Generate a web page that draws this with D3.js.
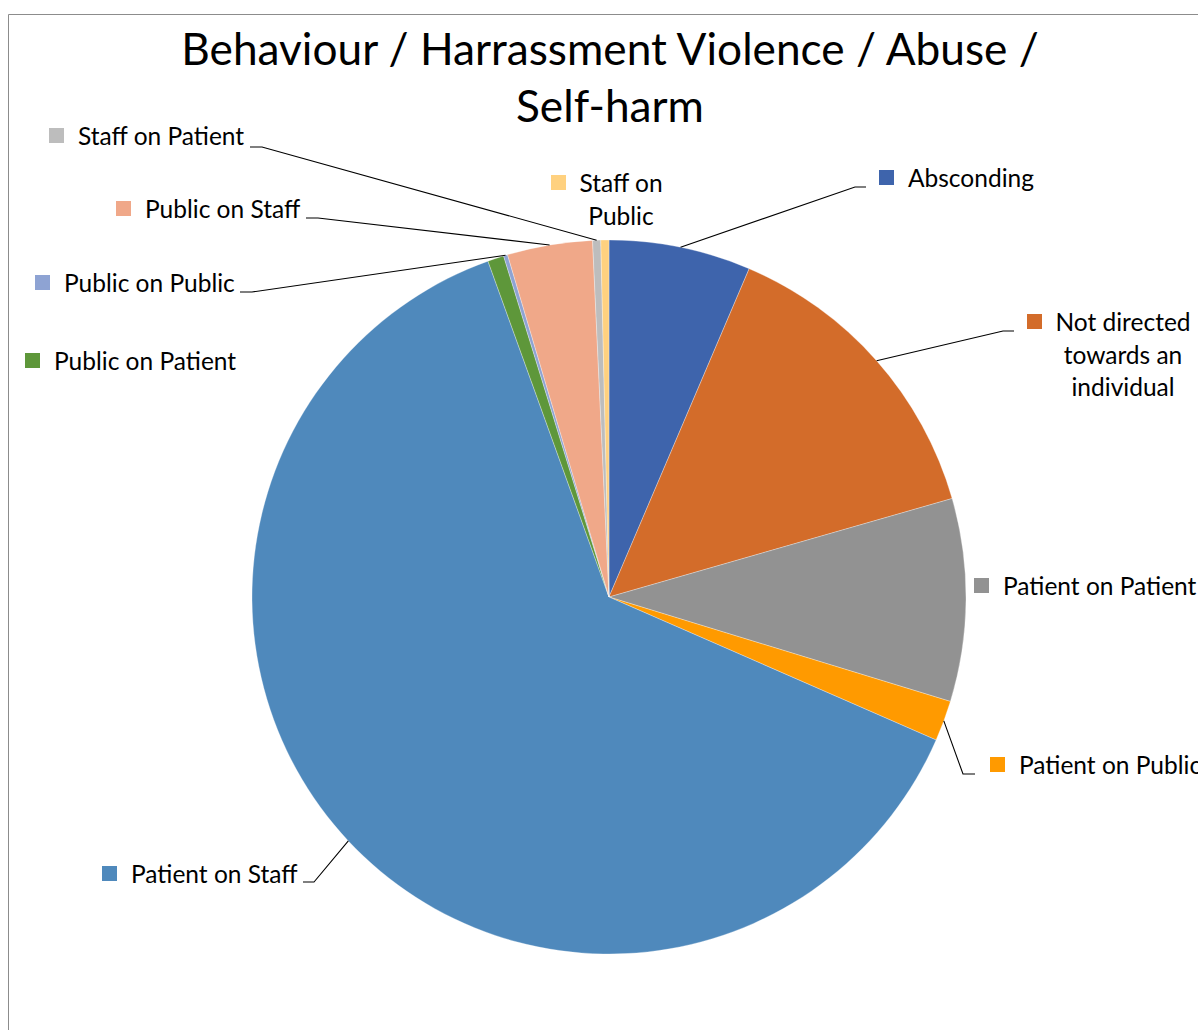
<!DOCTYPE html>
<html>
<head>
<meta charset="utf-8">
<script src="https://cdn.jsdelivr.net/npm/d3@7"></script>
<style>
  html, body { margin: 0; padding: 0; background: #fff; }
  svg { display: block; }
  text { font-family: Lato, "Open Sans", sans-serif; fill: #000; }
</style>
</head>
<body>
<svg id="chart" width="1198" height="1030"></svg>
<script>
// Incident counts by category (drawn clockwise from 12 o'clock in this order)
const categories = [
  "Absconding",
  "Not directed towards an individual",
  "Patient on Patient",
  "Patient on Public",
  "Patient on Staff",
  "Public on Patient",
  "Public on Public",
  "Public on Staff",
  "Staff on Patient",
  "Staff on Public"
];
const counts = [35, 77, 50, 10, 343, 4, 1, 21, 2, 2];
const colors = [
  "#3E64AC", "#D36C2A", "#929292", "#FF9A00", "#4F89BC",
  "#5E973A", "#8EA3D3", "#F0A889", "#BDBDBD", "#FFD17F"
];
const titleLines = ["Behaviour / Harrassment Violence / Abuse /", "Self-harm"];

// Label placement: text lines, text anchor point, and optional leader (elbow + end)
const labelLayout = {
  "Absconding":            { lines: ["Absconding"], x: 908, y: 187, align: "start", leader: [[855, 187], [866, 187]] },
  "Not directed towards an individual": { lines: ["Not directed", "towards an", "individual"], x: 1123, y: 331, align: "middle", keyX: 1027, leader: [[1003, 331], [1014, 331]] },
  "Patient on Patient":    { lines: ["Patient on Patient"], x: 1003, y: 595, align: "start" },
  "Patient on Public":     { lines: ["Patient on Public"], x: 1019, y: 774, align: "start", leader: [[963, 774], [975, 774]] },
  "Patient on Staff":      { lines: ["Patient on Staff"], x: 131, y: 883, align: "start", leader: [[314, 882], [303, 882]] },
  "Public on Patient":     { lines: ["Public on Patient"], x: 54, y: 370, align: "start" },
  "Public on Public":      { lines: ["Public on Public"], x: 64, y: 292, align: "start", leader: [[252, 292], [240, 292]] },
  "Public on Staff":       { lines: ["Public on Staff"], x: 145, y: 218, align: "start", leader: [[318, 218], [306, 218]] },
  "Staff on Patient":      { lines: ["Staff on Patient"], x: 78, y: 145, align: "start", leader: [[262, 147], [250, 147]] },
  "Staff on Public":       { lines: ["Staff on", "Public"], x: 621, y: 192, align: "middle", keyX: 551 }
};

const svg = d3.select("#chart");
const W = 1198, H = 1030;
const cx = 609, cy = 597, R = 357;
const lineH = 32.5, keySize = 15, labelSize = 24.5;

// Chart-area frame
svg.append("path")
  .attr("d", `M8.5,${H + 5} L8.5,14.5 L${W + 5},14.5`)
  .attr("fill", "none").attr("stroke", "#8c8c8c").attr("stroke-width", 1);

// Title
svg.append("g").selectAll("text")
  .data(titleLines).join("text")
  .attr("x", 610)
  .attr("y", (d, i) => 65 + i * 57)
  .attr("text-anchor", "middle")
  .attr("font-size", 44.2)
  .text(d => d);

const data = categories.map((c, i) => ({ name: c, value: counts[i], color: colors[i] }));
const pie = d3.pie().value(d => d.value).sort(null);
const arcs = pie(data);
const arc = d3.arc().innerRadius(0).outerRadius(R);

const g = svg.append("g").attr("transform", `translate(${cx},${cy})`);
g.selectAll("path.slice")
  .data(arcs).join("path")
  .attr("class", "slice")
  .attr("d", arc)
  .attr("fill", d => d.data.color)
  .attr("stroke", "#ffffff")
  .attr("stroke-opacity", 0.6)
  .attr("stroke-width", 0.5);

// Point on the rim at the middle of a slice
function rimPoint(a) {
  const m = (a.startAngle + a.endAngle) / 2;
  return [cx + R * Math.sin(m), cy - R * Math.cos(m)];
}

const labels = svg.append("g");
arcs.forEach(a => {
  const L = labelLayout[a.data.name];
  if (!L) return;
  if (L.leader) {
    const pts = [rimPoint(a)].concat(L.leader);
    labels.append("path")
      .attr("d", d3.line()(pts))
      .attr("fill", "none").attr("stroke", "#000").attr("stroke-width", 1.1);
  }
  const keyX = L.keyX !== undefined ? L.keyX : L.x - 29;
  labels.append("rect")
    .attr("x", keyX).attr("y", L.y - 17)
    .attr("width", keySize).attr("height", keySize)
    .attr("fill", a.data.color);
  labels.append("g").selectAll("text")
    .data(L.lines).join("text")
    .attr("x", L.x)
    .attr("y", (d, i) => L.y + i * lineH)
    .attr("text-anchor", L.align)
    .attr("font-size", labelSize)
    .text(d => d);
});
</script>
</body>
</html>
